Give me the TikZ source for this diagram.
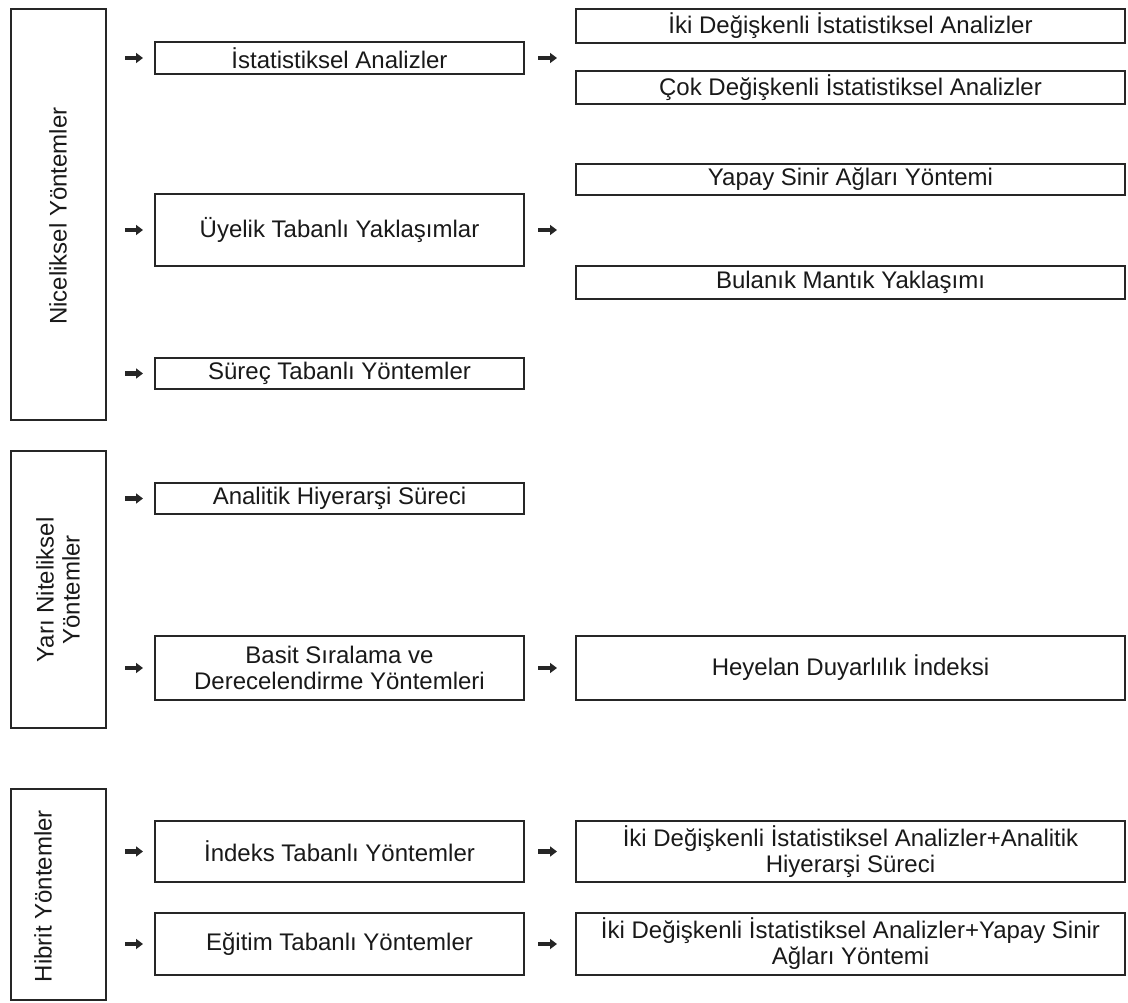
\documentclass[tikz,border=0pt]{standalone}
\usepackage{fontspec}
\setmainfont{Liberation Sans}
\usetikzlibrary{arrows.meta}
\begin{document}
\begin{tikzpicture}[x=1pt,y=-1pt,
  every node/.style={font=\fontsize{24}{26}\selectfont, text=black!90},
  bigbox/.style={draw=black!85, line width=2.2pt, fill=white, inner sep=0pt, outer sep=0pt, anchor=north west, minimum width=95pt},
  midbox/.style={draw=black!85, line width=2pt, fill=white, inner sep=0pt, outer sep=0pt, anchor=north west, minimum width=369pt, align=center},
  rbox/.style={draw=black!85, line width=2pt, fill=white, inner sep=0pt, outer sep=0pt, anchor=north west, minimum width=549pt, align=center},
  vlabel/.style={rotate=90, align=center, inner sep=0pt},
  arr/.style={line width=4.5pt, draw=black!85, -{Triangle[length=7pt,width=10pt]}},
  larr/.style={arr, shorten <=19pt, shorten >=12pt},
  rarr/.style={arr, shorten <=14pt, shorten >=19pt}
]
\useasboundingbox (0,0) rectangle (1128,1003);
\fill[white] (0,0) rectangle (1128,1003);

% left category boxes
\node[bigbox, minimum height=411pt] (N) at (11,9) {};
\node[bigbox, minimum height=277pt] (Y) at (11,451) {};
\node[bigbox, minimum height=211pt] (H) at (11,789) {};
\node[vlabel] (Nl) at (58,216) {Niceliksel Yöntemler};
\node[vlabel] (Yl) at (58,590) {Yarı Niteliksel\\Yöntemler};
\node[vlabel] (Hl) at (43,896) {Hibrit Yöntemler};

% middle boxes
\node[midbox, minimum height=32pt] (ist) at (155,42) {İstatistiksel Analizler};
\node[midbox, minimum height=72pt] (uye) at (155,194) {Üyelik Tabanlı Yaklaşımlar};
\node[midbox, minimum height=31pt] (sur) at (155,358) {Süreç Tabanlı Yöntemler};
\node[midbox, minimum height=31pt] (ana) at (155,483) {Analitik Hiyerarşi Süreci};
\node[midbox, minimum height=64pt] (bas) at (155,636) {Basit Sıralama ve\\Derecelendirme Yöntemleri};
\node[midbox, minimum height=61pt] (ind) at (155,821) {İndeks Tabanlı Yöntemler};
\node[midbox, minimum height=62pt] (egi) at (155,913) {Eğitim Tabanlı Yöntemler};

% right boxes
\node[rbox, minimum height=34pt] (iki) at (576,9) {İki Değişkenli İstatistiksel Analizler};
\node[rbox, minimum height=33pt] (cok) at (576,71) {Çok Değişkenli İstatistiksel Analizler};
\node[rbox, minimum height=31pt] (yap) at (576,164) {Yapay Sinir Ağları Yöntemi};
\node[rbox, minimum height=33pt] (bul) at (576,266) {Bulanık Mantık Yaklaşımı};
\node[rbox, minimum height=64pt] (hey) at (576,636) {Heyelan Duyarlılık İndeksi};
\node[rbox, minimum height=61pt] (ikiA) at (576,821) {İki Değişkenli İstatistiksel Analizler+Analitik\\Hiyerarşi Süreci};
\node[rbox, minimum height=62pt] (ikiY) at (576,913) {İki Değişkenli İstatistiksel Analizler+Yapay Sinir\\Ağları Yöntemi};

% free ends of the arrows pointing between box pairs
\coordinate (istR) at (ist.east -| iki.west);
\coordinate (uyeR) at (uye.east -| iki.west);

% left arrows
\draw[larr] (N.east |- ist.west) -- (ist.west);
\draw[larr] (N.east |- uye.west) -- (uye.west);
\draw[larr] (N.east |- sur.west) -- (sur.west);
\draw[larr] (Y.east |- ana.west) -- (ana.west);
\draw[larr] (Y.east |- bas.west) -- (bas.west);
\draw[larr] (H.east |- ind.west) -- (ind.west);
\draw[larr] (H.east |- egi.west) -- (egi.west);

% right arrows
\draw[rarr] (ist.east) -- (istR);
\draw[rarr] (uye.east) -- (uyeR);
\draw[rarr] (bas.east) -- (hey.west);
\draw[rarr] (ind.east) -- (ikiA.west);
\draw[rarr] (egi.east) -- (ikiY.west);
\end{tikzpicture}
\end{document}
